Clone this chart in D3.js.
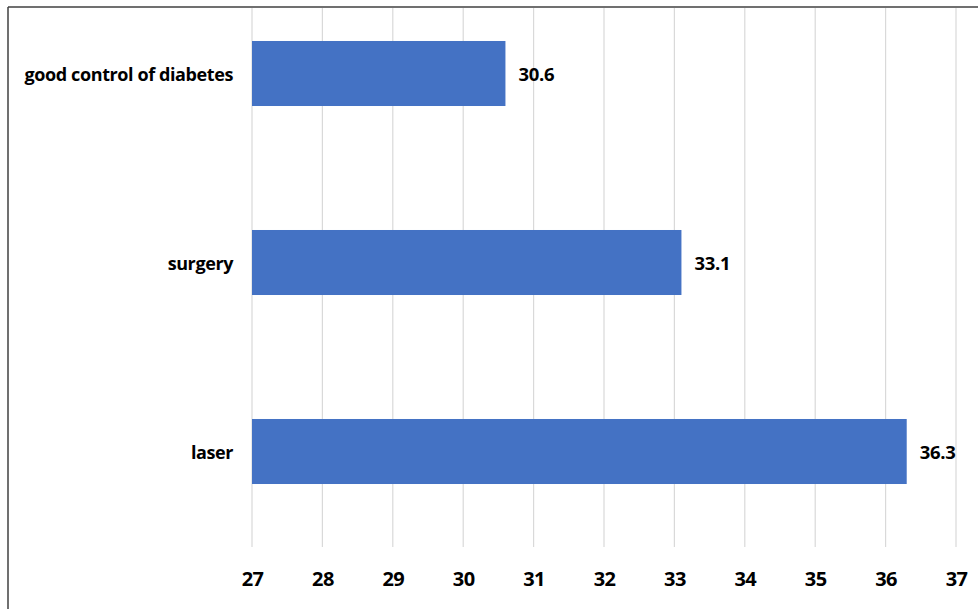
<!DOCTYPE html>
<html>
<head>
<meta charset="utf-8">
<script src="https://cdn.jsdelivr.net/npm/d3@7"></script>
<style>
  body { margin: 0; background: #fff; }
  text { font-family: "Liberation Sans Narrow", "Open Sans", sans-serif; fill: #000; }
</style>
</head>
<body>
<div id="chart"></div>
<script>
// data
const categories = ['good control of diabetes', 'surgery', 'laser'];
const values = [30.6, 33.1, 36.3];
const tickValues = [27, 28, 29, 30, 31, 32, 33, 34, 35, 36, 37];

const width = 978, height = 609;
const svg = d3.select('#chart').append('svg')
    .attr('width', width)
    .attr('height', height);

// frame (only top and left edges are visible in the crop)
svg.append('line').attr('x1', 8).attr('x2', width).attr('y1', 7).attr('y2', 7)
    .attr('stroke', '#404040').attr('stroke-width', 1.5);
svg.append('line').attr('x1', 8).attr('x2', 8).attr('y1', 7).attr('y2', height)
    .attr('stroke', '#404040').attr('stroke-width', 1.5);

const x = d3.scaleLinear().domain([27, 37]).range([252, 956]);
const y = d3.scaleBand().domain(categories).range([-21, 546])
    .paddingInner(0.656).paddingOuter(0.328);

const gridTop = 8, gridBottom = 547;

// vertical gridlines
svg.selectAll('.grid')
    .data(tickValues)
    .enter().append('line')
    .attr('class', 'grid')
    .attr('x1', d => x(d)).attr('x2', d => x(d))
    .attr('y1', gridTop).attr('y2', gridBottom)
    .attr('stroke', '#d9d9d9').attr('stroke-width', 1.2);

// bars
svg.selectAll('.bar')
    .data(categories)
    .enter().append('rect')
    .attr('class', 'bar')
    .attr('x', x(27))
    .attr('y', d => y(d))
    .attr('width', (d, i) => x(values[i]) - x(27))
    .attr('height', y.bandwidth())
    .attr('fill', '#4472C4');

// value labels
svg.selectAll('.val')
    .data(categories)
    .enter().append('text')
    .attr('class', 'val')
    .attr('x', (d, i) => x(values[i]) + 13)
    .attr('y', d => y(d) + y.bandwidth() / 2)
    .attr('dy', '0.4em')
    .attr('font-size', 18.5)
    .attr('font-weight', 'bold')
    .attr('letter-spacing', -0.3)
    .text((d, i) => values[i].toFixed(1));

// category labels
svg.selectAll('.cat')
    .data(categories)
    .enter().append('text')
    .attr('class', 'cat')
    .attr('x', 233)
    .attr('y', d => y(d) + y.bandwidth() / 2)
    .attr('dy', '0.4em')
    .attr('text-anchor', 'end')
    .attr('font-size', 18)
    .attr('font-weight', 'bold')
    .attr('letter-spacing', -0.4)
    .text(d => d);

// x axis tick labels
const xAxis = d3.axisBottom(x).tickValues(tickValues).tickSize(0).tickPadding(0)
    .tickFormat(d3.format('d'));
const gx = svg.append('g').attr('transform', 'translate(0,572)').call(xAxis);
gx.select('.domain').remove();
gx.selectAll('text')
    .attr('font-size', 20)
    .attr('font-weight', 'bold')
    .attr('letter-spacing', -0.6)
    .attr('font-family', '"Liberation Sans Narrow", "Open Sans", sans-serif')
    .attr('fill', '#000');
</script>
</body>
</html>
